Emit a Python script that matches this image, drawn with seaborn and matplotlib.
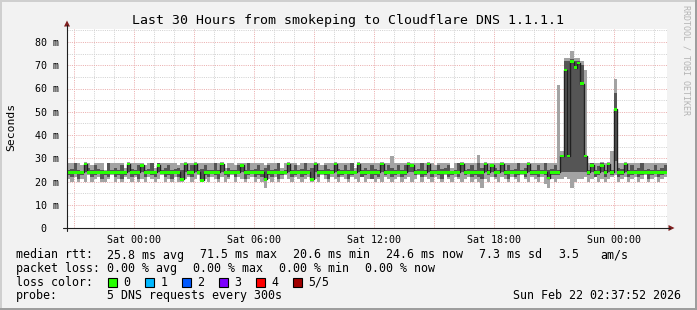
import numpy as np
import pandas as pd
import matplotlib
matplotlib.use("Agg")
import matplotlib.pyplot as plt
import seaborn as sns
from matplotlib.lines import Line2D
from matplotlib.patches import Polygon, Rectangle
from matplotlib.transforms import Affine2D
from matplotlib.ticker import FixedLocator, MultipleLocator

# ---------------- data ----------------
TITLE = "Last 30 Hours from smokeping to Cloudflare DNS 1.1.1.1"
Y_LABEL = "Seconds"
WATERMARK = "RRDTOOL / TOBI OETIKER"
START_HOURS = -3.369          # first sample, hours relative to Sat 00:00
STEP_HOURS = 1 / 6            # 10-minute consolidation steps
SPAN_HOURS = 30

X_TICKS = [-3, 0, 3, 6, 9, 12, 15, 18, 21, 24]
X_TICK_LABELS = ["", "Sat 00:00", "", "Sat 06:00", "", "Sat 12:00", "", "Sat 18:00", "", "Sun 00:00"]
Y_TICKS = [0, 10, 20, 30, 40, 50, 60, 70, 80]
Y_TICK_LABELS = ["0  ", "10 m", "20 m", "30 m", "40 m", "50 m", "60 m", "70 m", "80 m"]

median_ms = [
    24, 24, 24, 24, 24, 27.5, 24, 24, 24, 24, 24, 24, 24, 24, 24, 24, 24, 24, 27.5, 24,
    24, 24, 27, 24, 24, 24, 24, 27, 24, 24, 24, 24, 24, 24, 21, 27.5, 24, 24, 27.5, 24,
    20.5, 24, 24, 24, 24, 24, 27.5, 24, 24, 24, 24, 24, 27, 24, 24, 24, 24, 24, 24, 21,
    24, 24, 24, 24, 24, 24, 27.5, 24, 24, 24, 24, 24, 24, 21, 27.5, 24, 24, 24, 24, 24,
    27.5, 24, 24, 24, 24, 24, 24, 27.5, 24, 24, 24, 24, 24, 24, 27.5, 24, 24, 24, 24, 24,
    24, 24, 27.5, 27, 24, 24, 24, 24, 27.5, 24, 24, 24, 24, 24, 24, 24, 24, 24, 27.5, 24,
    24, 24, 24, 24, 24, 27.5, 24, 27, 24, 24, 27.5, 24, 24, 24, 24, 24, 24, 24, 27.5, 24,
    24, 24, 24, 24, 21.5, 24, 24, 24, 31, 68, 31, 71.5, 69, 71, 62, 31, 24, 27, 24, 24,
    27, 24, 27.5, 24, 51, 24, 24, 27.5, 24, 24, 24, 24, 24, 24, 24, 24, 24, 24, 24, 24,
]
ping1_ms = [
    21, 20, 22, 20, 21, 20, 23, 20, 21, 22, 20, 20, 21, 23, 20, 21, 20, 22, 21, 20,
    22, 20, 21, 20, 22, 21, 20, 21, 23, 20, 21, 20, 22, 20, 20, 21, 22, 20, 21, 23,
    20, 21, 20, 22, 21, 20, 22, 20, 21, 23, 20, 22, 21, 20, 21, 22, 20, 21, 20, 17,
    21, 20, 22, 20, 21, 23, 21, 20, 22, 21, 20, 21, 22, 20, 21, 20, 23, 21, 20, 22,
    21, 20, 22, 21, 20, 22, 21, 20, 23, 20, 21, 22, 20, 21, 20, 22, 21, 20, 21, 22,
    20, 21, 22, 20, 21, 23, 20, 22, 21, 20, 22, 21, 20, 23, 21, 20, 22, 21, 20, 21,
    22, 20, 21, 20, 17, 21, 20, 22, 21, 20, 22, 21, 20, 22, 21, 20, 23, 21, 20, 22,
    21, 20, 22, 19, 17, 21, 20, 21, 21, 22, 21, 17, 20, 21, 21, 22, 20, 21, 22, 20,
    21, 20, 21, 22, 23, 20, 21, 22, 20, 21, 22, 20, 21, 23, 20, 21, 22, 20, 21, 22,
]
ping2_ms = [
    23, 22, 24, 21, 23, 24, 24, 22, 23, 24, 21, 23, 22, 24, 22, 23, 21, 23, 24, 22,
    23, 21, 24, 22, 24, 23, 22, 24, 24, 22, 23, 21, 24, 22, 21, 24, 23, 22, 24, 24,
    20.5, 23, 22, 24, 23, 21, 24, 23, 22, 24, 22, 24, 24, 21, 23, 24, 22, 23, 22, 21,
    23, 22, 24, 21, 23, 24, 24, 22, 23, 24, 22, 23, 24, 21, 24, 22, 24, 23, 21, 24,
    24, 22, 23, 24, 21, 23, 24, 24, 22, 23, 24, 21, 23, 22, 24, 23, 24, 22, 23, 24,
    22, 23, 24, 24, 23, 24, 22, 23, 24, 22, 24, 23, 21, 24, 22, 23, 24, 22, 24, 23,
    24, 22, 23, 22, 21, 24, 23, 24, 22, 24, 24, 23, 21, 24, 22, 23, 24, 22, 24, 23,
    23, 22, 24, 23, 21.5, 23, 23, 23, 24, 24, 24, 24, 24, 24, 24, 24, 23, 24, 22, 23,
    24, 22, 24, 23, 29, 22, 23, 24, 22, 23, 24, 22, 23, 24, 21, 23, 24, 22, 23, 24,
]
ping4_ms = [
    25, 25.5, 28, 25, 24.5, 28, 26, 25, 27, 25.5, 25, 24.5, 28, 25, 26, 25, 27, 24.5, 28, 25.5,
    25, 27, 27.5, 25, 25.5, 28, 24.5, 28, 25, 26, 27, 25, 25.5, 26, 25, 28, 25, 27, 28, 25,
    25.5, 27, 25, 25, 28, 25, 28, 24.5, 26, 25, 25, 27, 27.5, 25, 28, 25, 25.5, 27, 25, 26,
    27, 25, 25.5, 28, 24.5, 25, 28, 25, 27, 25, 25.5, 28, 25, 26, 28, 25, 25, 27, 25.5, 25,
    28, 25.5, 25, 27, 25, 28, 24.5, 28, 25, 26, 25, 27, 25.5, 25, 28, 25, 27, 26, 25, 27,
    25, 27, 28, 27.5, 25, 25.5, 28, 25, 28, 25, 25, 27, 25.5, 26, 27, 24.5, 25, 28, 28, 25,
    25.5, 27, 25, 28, 26, 28, 25, 27.5, 26, 25, 28, 25, 27, 25, 25.5, 28, 25, 26, 28, 25,
    25, 27, 25, 28, 25, 25.5, 27, 25, 31, 72, 72, 72.5, 72, 72, 70, 31, 25, 28, 25, 26.5,
    28, 25, 28, 25, 58, 26, 25.5, 28, 25, 27, 25, 26, 28, 25, 25.5, 25, 27, 25, 26, 27,
]
ping5_ms = [
    28, 28, 28, 28, 27, 28.5, 28, 27, 28, 28, 28, 25, 28, 28, 28, 28, 28, 26, 28.5, 28,
    28, 28, 28, 27, 28, 28, 26, 28, 28, 28, 28, 28, 28, 27, 28, 28.5, 28, 28, 28.5, 28,
    28, 28, 28, 28, 28, 28, 28.5, 26, 28, 28, 27, 28, 28, 28, 28, 28, 28, 28, 28, 27,
    28, 28, 28, 28, 26, 28, 28.5, 28, 28, 27, 28, 28, 28, 28, 28.5, 28, 27, 28, 28, 28,
    28.5, 28, 28, 28, 28, 28, 26, 28.5, 28, 28, 28, 28, 28, 28, 28.5, 28, 28, 31, 28, 28,
    28, 28, 28.5, 28, 28, 28, 28, 28, 28.5, 28, 27, 28, 28, 28, 28, 26, 28, 28, 28.5, 28,
    28, 28, 28, 31.5, 28, 28.5, 28, 28, 28, 28, 28.5, 28, 28, 28, 28, 28, 28, 28, 28.5, 28,
    28, 28, 28, 28, 28, 28, 28, 61.5, 33, 73, 73, 76, 73, 73, 72, 68, 28, 28, 28, 28,
    28.5, 28, 28.5, 33, 64, 28, 28, 28.5, 28, 28, 28, 28, 28, 28, 28, 28, 28, 28, 28, 28,
]

LEGEND_ROWS = [
    [("median rtt:", 16), ("25.8 ms avg", 107), ("71.5 ms max", 200), ("20.6 ms min", 293),
     ("24.6 ms now", 386), ("7.3 ms sd", 479), ("3.5", 558), ("am/s", 600)],
    [("packet loss:", 16), ("0.00 % avg", 107), ("0.00 % max", 193), ("0.00 % min", 279),
     ("0.00 % now", 365)],
    [("loss color:", 16)],
    [("probe:", 16), ("5 DNS requests every 300s", 107)],
]
LOSS_LABELS = ["0", "1", "2", "3", "4", "5/5"]
LOSS_COLORS = ["#26ff00", "#00b8ff", "#0059ff", "#7e00ff", "#ff0000", "#a10000"]
TIMESTAMP = "Sun Feb 22 02:37:52 2026"

# ---------------- styling ----------------
sns.set_style("white")
plt.rcParams["font.family"] = ["DejaVu Sans Mono", "DejaVu Sans"]

W, H = 697, 310
fig = plt.figure(figsize=(W / 100, H / 100), dpi=100, facecolor="#f2f2f2")
px = Affine2D().scale(1 / W, -1 / H).translate(0, 1) + fig.transFigure

# shade border
fig.add_artist(Rectangle((0, 0), W, 2, transform=px, color="#cfcfcf", lw=0))
fig.add_artist(Rectangle((0, 0), 2, H, transform=px, color="#cfcfcf", lw=0))
fig.add_artist(Rectangle((0, H - 2), W, 2, transform=px, color="#9e9e9e", lw=0))
fig.add_artist(Rectangle((W - 2, 0), 2, H, transform=px, color="#9e9e9e", lw=0))

PX_PER_MS = 2.325
YTOP = 85.5
ax = fig.add_axes([67 / W, (H - 228) / H, 600 / W, YTOP * PX_PER_MS / H])
ax.set_facecolor("white")

n = len(median_ms)
assert all(len(a) == n for a in (ping1_ms, ping2_ms, ping4_ms, ping5_ms))
df = pd.DataFrame({
    "hours": START_HOURS + np.arange(n + 1) * STEP_HOURS,
    "median": np.append(median_ms, median_ms[-1]),
    "p1": np.append(ping1_ms, ping1_ms[-1]),
    "p2": np.append(ping2_ms, ping2_ms[-1]),
    "p4": np.append(ping4_ms, ping4_ms[-1]),
    "p5": np.append(ping5_ms, ping5_ms[-1]),
})

ax.fill_between(df["hours"], df["p1"], df["p5"], step="post", color="#a3a3a3", lw=0, zorder=2)
ax.fill_between(df["hours"], df["p2"], df["p4"], step="post", color="#555555", lw=0, zorder=3)
sns.lineplot(data=df, x="hours", y="median", drawstyle="steps-post", color="#202020",
             lw=1.0, errorbar=None, ax=ax, zorder=4)
ax.fill_between(df["hours"], df["median"] - 0.6, df["median"] + 0.6, step="post",
                color=LOSS_COLORS[0], lw=0, zorder=5)

ax.set_xlim(START_HOURS, START_HOURS + SPAN_HOURS)
ax.set_ylim(0, YTOP)
ax.set_xlabel("")
ax.set_ylabel("")
for s in ax.spines.values():
    s.set_visible(False)

ax.xaxis.set_major_locator(FixedLocator(X_TICKS))
ax.set_xticklabels(X_TICK_LABELS)
ax.xaxis.set_minor_locator(MultipleLocator(1))
ax.yaxis.set_major_locator(FixedLocator(Y_TICKS))
ax.set_yticklabels(Y_TICK_LABELS)
ax.yaxis.set_minor_locator(MultipleLocator(5))

dots = (0, (1, 1.2))
ax.grid(which="minor", color="#d2d2d2", ls=dots, lw=0.72, zorder=1, snap=True)
ax.grid(which="major", color="#ebaeae", ls=dots, lw=0.72, zorder=1, snap=True)
ax.set_axisbelow(True)

ax.tick_params(axis="x", which="major", direction="out", length=2.5, width=0.72,
               color="#1f1f1f", labelsize=7.18, pad=2.2, labelcolor="black")
ax.tick_params(axis="x", which="minor", length=0)
ax.tick_params(axis="y", which="major", direction="out", length=2.2, width=0.72,
               color="#1f1f1f", labelsize=7.18, pad=3.6, labelcolor="black")
ax.tick_params(axis="y", which="minor", direction="out", length=1.5, width=0.72,
               color="#1f1f1f")

# axes with arrows
AXC = "#1f1f1f"
ARC = "#801f1f"
fig.add_artist(Line2D([67, 67], [231, 25], transform=px, color=AXC, lw=0.8))
fig.add_artist(Line2D([63, 670], [228, 228], transform=px, color=AXC, lw=0.8))
fig.add_artist(Polygon([[67, 20.5], [64, 26.5], [70, 26.5]], closed=True, transform=px,
                       color=ARC, lw=0))
fig.add_artist(Polygon([[674.5, 228], [668.5, 225], [668.5, 231]], closed=True, transform=px,
                       color=ARC, lw=0))

# texts
fig.text(348, 24, TITLE, transform=px, ha="center", va="baseline", fontsize=9.57, color="black")
fig.text(11, 127, Y_LABEL, transform=px, ha="center", va="center", rotation=90,
         fontsize=8.2, color="black")
fig.text(686, 60, WATERMARK, transform=px, ha="center", va="center", rotation=270,
         fontsize=6.0, color="#b4b4b4")

baselines = [258.5, 272, 285.5, 299]
for row, yb in zip(LEGEND_ROWS, baselines):
    for txt, x in row:
        fig.text(x, yb, txt, transform=px, ha="left", va="baseline", fontsize=8.37, color="black")

box_x = [108, 145, 182, 219, 256, 293]
for bx, lab, col in zip(box_x, LOSS_LABELS, LOSS_COLORS):
    fig.add_artist(Rectangle((bx, 277.5), 9, 9, transform=px, facecolor=col,
                             edgecolor="black", lw=0.8))
    fig.text(bx + 15.5, baselines[2], lab, transform=px, ha="left", va="baseline",
             fontsize=8.37, color="black")

fig.text(681, baselines[3], TIMESTAMP, transform=px, ha="right", va="baseline",
         fontsize=8.37, color="black")

fig.savefig("out.png", dpi=100, facecolor=fig.get_facecolor())
